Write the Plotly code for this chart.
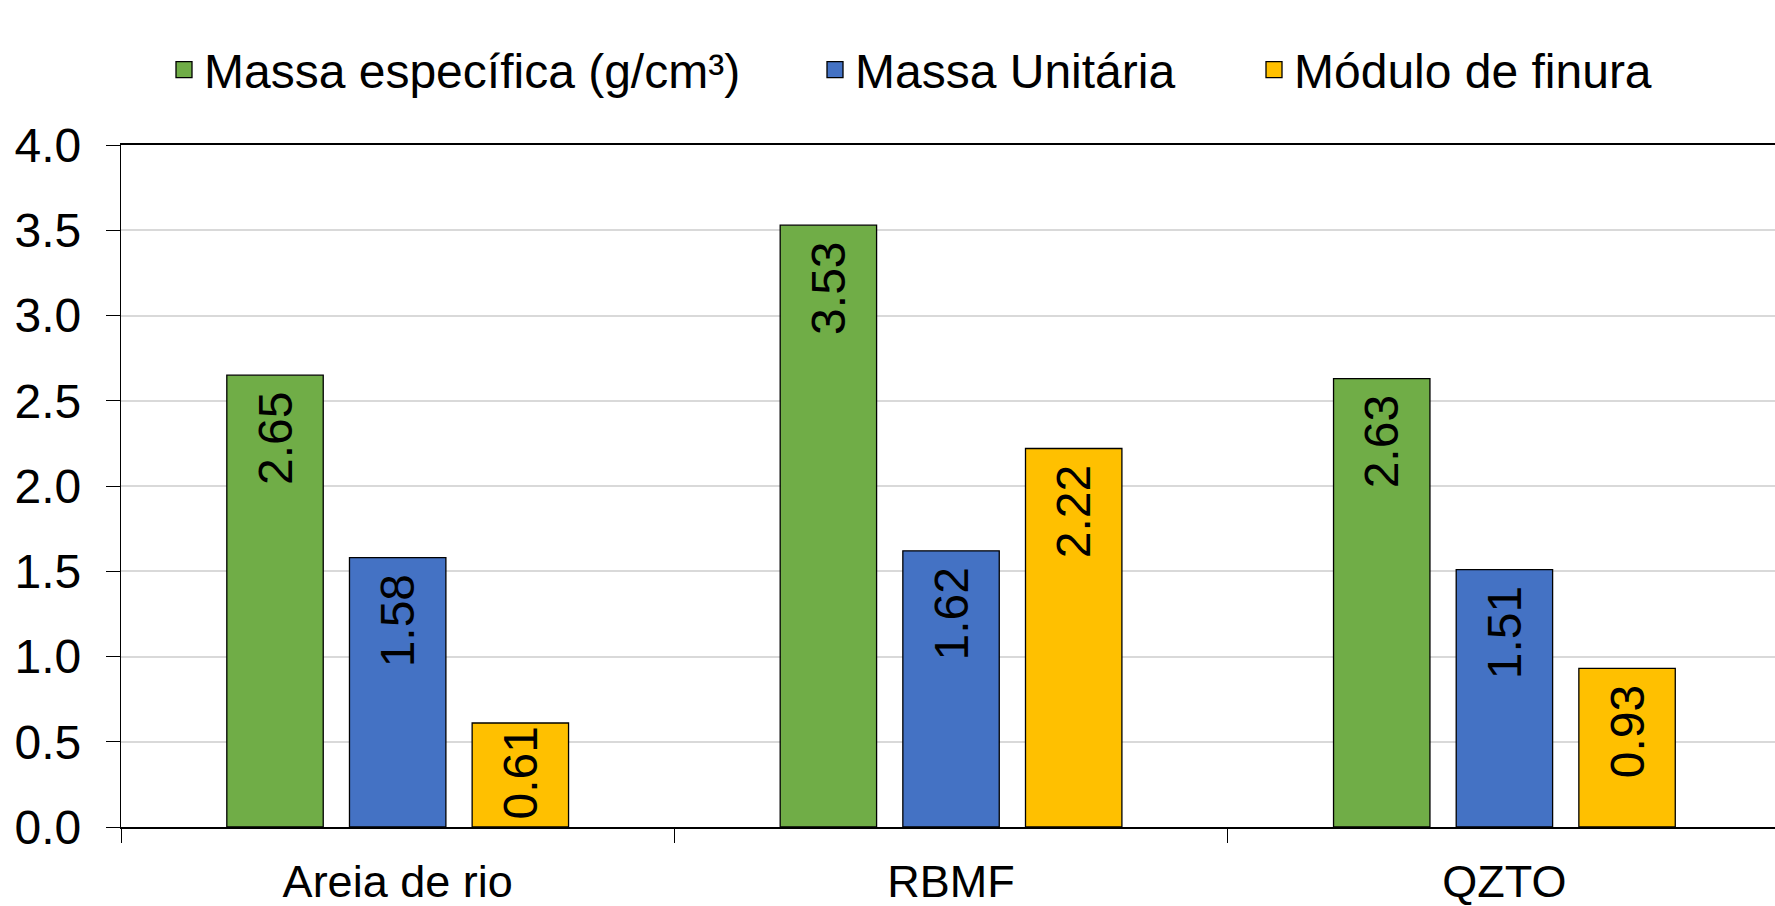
import plotly.graph_objects as go

categories = ["Areia de rio", "RBMF", "QZTO"]
massa_especifica = [2.65, 3.53, 2.63]
massa_unitaria = [1.58, 1.62, 1.51]
modulo_finura = [0.61, 2.22, 0.93]

series = [
    ("Massa específica (g/cm³)", massa_especifica, "#70AD47"),
    ("Massa Unitária", massa_unitaria, "#4472C4"),
    ("Módulo de finura", modulo_finura, "#FFC000"),
]

FONT = "Liberation Sans, Arial, sans-serif"
W, H = 1775, 906

# one legend box per series, laid out across the top of the chart
legend_keys = ["legend", "legend2", "legend3"]
legend_text_x = [209, 860, 1299]   # left edge of each legend label, px


def bar_label(v):
    # a trailing no-break space keeps the value off the bar's top edge
    # when the bar is tall enough to hold it
    s = f"{v:.2f}"
    return s + "\u00a0" if v > 0.75 else s


fig = go.Figure()
for (name, values, color), lg in zip(series, legend_keys):
    fig.add_trace(go.Bar(
        name=name,
        x=categories,
        y=values,
        showlegend=False,
        marker=dict(color=color, line=dict(color="#000000", width=1.3)),
        text=[bar_label(v) for v in values],
        textposition="inside",
        insidetextanchor="end",
        textangle=-90,
        constraintext="none",
        textfont=dict(family=FONT, size=48, color="#000000"),
    ))
    # legend entry: a larger square swatch than the default bar symbol
    fig.add_trace(go.Scatter(
        name=name,
        x=[None],
        y=[None],
        mode="markers",
        legend=lg,
        showlegend=True,
        hoverinfo="skip",
        marker=dict(symbol="square", size=16, color=color,
                    line=dict(color="#000000", width=1.3)),
    ))

legend_style = dict(
    orientation="h",
    xref="container", yref="container",
    xanchor="left", yanchor="middle",
    y=1 - 70 / H,
    font=dict(family=FONT, size=48, color="#000000"),
    itemwidth=30,
    bgcolor="rgba(0,0,0,0)",
)
legends = {
    lg: dict(legend_style, x=(tx - 45) / W)
    for lg, tx in zip(legend_keys, legend_text_x)
}

fig.update_layout(
    width=W,
    height=H,
    margin=dict(l=121, r=0, t=145, b=79),
    paper_bgcolor="#ffffff",
    plot_bgcolor="#ffffff",
    barmode="group",
    bargap=0.335,
    bargroupgap=0.214,
    font=dict(family=FONT, size=46, color="#000000"),
    showlegend=True,
    **legends,
)

fig.update_yaxes(
    range=[0, 4.0],
    dtick=0.5,
    tickformat=".1f",
    showgrid=True,
    gridcolor="#d9d9d9",
    gridwidth=1.5,
    showline=True,
    linecolor="#000000",
    linewidth=1.3,
    mirror=False,
    ticks="outside",
    ticklen=14,
    tickcolor="#000000",
    tickwidth=1.3,
    ticklabelstandoff=15,
    zeroline=False,
    tickfont=dict(family=FONT, size=48, color="#000000"),
)
fig.update_xaxes(
    # the last category runs slightly past the right edge of the canvas
    range=[-0.5, 2.489],
    showline=True,
    linecolor="#000000",
    linewidth=1.8,
    mirror=True,
    ticks="outside",
    tickson="boundaries",
    ticklen=14,
    tickcolor="#000000",
    tickwidth=1.3,
    ticklabelstandoff=14,
    showgrid=False,
    tickfont=dict(family=FONT, size=45, color="#000000"),
)

fig.write_html("out.html")
